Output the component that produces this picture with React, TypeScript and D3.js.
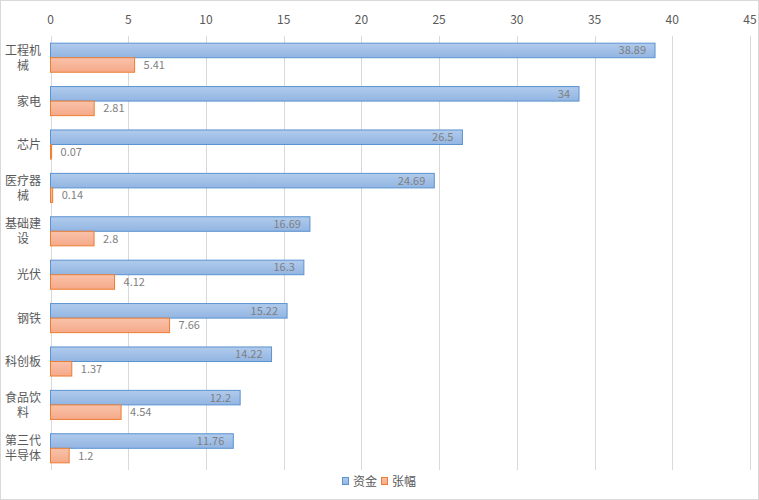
import React, { useEffect, useRef } from "react";
import * as d3 from "d3";

// 数据
const categories = ["工程机械", "家电", "芯片", "医疗器械", "基础建设", "光伏", "钢铁", "科创板", "食品饮料", "第三代半导体"];
const labelLines = [["工程机", "械"], ["家电"], ["芯片"], ["医疗器", "械"], ["基础建", "设"], ["光伏"], ["钢铁"], ["科创板"], ["食品饮", "料"], ["第三代", "半导体"]];
const fundValues = [38.89, 34, 26.5, 24.69, 16.69, 16.3, 15.22, 14.22, 12.2, 11.76];
const riseValues = [5.41, 2.81, 0.07, 0.14, 2.8, 4.12, 7.66, 1.37, 4.54, 1.2];
const xTicks = [0, 5, 10, 15, 20, 25, 30, 35, 40, 45];
const seriesNames = ["资金", "张幅"];

const W = 759;
const H = 500;
const FONT = "'Noto Sans CJK SC', 'Noto Sans', sans-serif";

export default function App() {
  const svgRef = useRef<SVGSVGElement>(null);

  useEffect(() => {
    document.body.style.margin = "0";
    const svg = d3.select(svgRef.current);
    svg.selectAll("*").remove();

    const defs = svg.append("defs");
    const gBlue = defs.append("linearGradient").attr("id", "gBlue").attr("x1", 0).attr("y1", 0).attr("x2", 0).attr("y2", 1);
    gBlue.append("stop").attr("offset", "0%").attr("stop-color", "#b1cbec");
    gBlue.append("stop").attr("offset", "100%").attr("stop-color", "#92b5e2");
    const gOr = defs.append("linearGradient").attr("id", "gOr").attr("x1", 0).attr("y1", 0).attr("x2", 0).attr("y2", 1);
    gOr.append("stop").attr("offset", "0%").attr("stop-color", "#f9c2aa");
    gOr.append("stop").attr("offset", "100%").attr("stop-color", "#f5a989");

    svg.append("rect").attr("x", 0.5).attr("y", 0.5).attr("width", W - 1).attr("height", H - 1)
      .attr("fill", "white").attr("stroke", "#d9d9d9");

    const x = d3.scaleLinear().domain([0, 45]).range([50.5, 750]);
    const y = d3.scaleBand().domain(categories).range([36, 470]).paddingInner(0.33).paddingOuter(0.165);
    const sub = d3.scaleBand().domain(seriesNames).range([0, y.bandwidth()]);

    // 网格线
    svg.append("g").selectAll("line").data(xTicks).join("line")
      .attr("x1", d => Math.round(x(d)) + 0.5).attr("x2", d => Math.round(x(d)) + 0.5)
      .attr("y1", 36).attr("y2", 470)
      .attr("stroke", "#d9d9d9");

    // 顶部刻度
    svg.append("g").selectAll("text").data(xTicks).join("text")
      .attr("x", d => x(d)).attr("y", 24)
      .attr("text-anchor", "middle")
      .attr("font-family", FONT).attr("font-size", 12).attr("fill", "#595959")
      .text(d => d);

    const groups = svg.append("g").selectAll("g").data(categories).join("g")
      .attr("transform", d => `translate(0,${y(d)})`);

    groups.append("rect")
      .attr("x", x(0)).attr("y", sub("资金")!)
      .attr("width", (d, i) => x(fundValues[i]) - x(0)).attr("height", sub.bandwidth())
      .attr("fill", "url(#gBlue)").attr("stroke", "#5b93d0").attr("stroke-width", 1);

    groups.append("rect")
      .attr("x", x(0)).attr("y", sub("张幅")!)
      .attr("width", (d, i) => x(riseValues[i]) - x(0)).attr("height", sub.bandwidth())
      .attr("fill", "url(#gOr)").attr("stroke", "#ed7d31").attr("stroke-width", 1);

    groups.append("text")
      .attr("x", (d, i) => x(fundValues[i]) - 9).attr("y", sub("资金")! + sub.bandwidth() / 2 + 4)
      .attr("text-anchor", "end")
      .attr("font-family", FONT).attr("font-size", 11).attr("fill", "#7f7f7f")
      .text((d, i) => fundValues[i]);

    groups.append("text")
      .attr("x", (d, i) => x(riseValues[i]) + 9).attr("y", sub("张幅")! + sub.bandwidth() / 2 + 4)
      .attr("font-family", FONT).attr("font-size", 11).attr("fill", "#7f7f7f")
      .text((d, i) => riseValues[i]);

    // 类别标签（多行时块右对齐、行内居中）
    groups.each(function (d, i) {
      const lines = labelLines[i];
      const blockW = d3.max(lines, l => l.length)! * 12;
      const cx = 41 - blockW / 2;
      const mid = y.bandwidth() / 2;
      d3.select(this).selectAll("text.cat").data(lines).join("text")
        .attr("class", "cat")
        .attr("x", cx)
        .attr("y", (l, j) => mid + (j - (lines.length - 1) / 2) * 15 + 4.5)
        .attr("text-anchor", "middle")
        .attr("font-family", FONT).attr("font-size", 12).attr("fill", "#595959")
        .text(l => l);
    });

    // 图例
    const legend = svg.append("g");
    const legendX = [342, 381];
    const fills = ["url(#gBlue)", "url(#gOr)"];
    const strokes = ["#5b93d0", "#ed7d31"];
    seriesNames.forEach((s, i) => {
      legend.append("rect").attr("x", legendX[i] + 0.5).attr("y", 477.5).attr("width", 6).attr("height", 7)
        .attr("fill", fills[i]).attr("stroke", strokes[i]);
      legend.append("text").attr("x", legendX[i] + 11).attr("y", 485.5)
        .attr("font-family", FONT).attr("font-size", 12).attr("fill", "#595959")
        .text(s);
    });
  }, []);

  return <svg ref={svgRef} width={W} height={H} style={{ display: "block" }} />;
}
